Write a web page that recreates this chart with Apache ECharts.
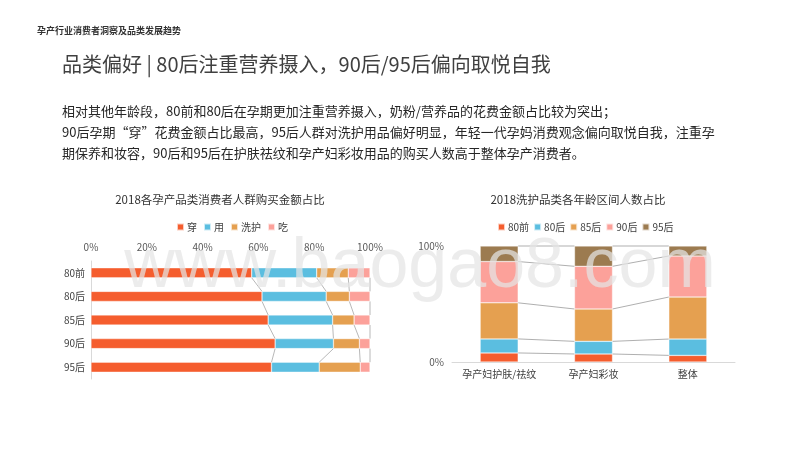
<!DOCTYPE html>
<html>
<head>
<meta charset="utf-8">
<script src="https://cdn.jsdelivr.net/npm/echarts@6/dist/echarts.min.js"></script>
<style>
html,body{margin:0;padding:0;background:#fff;}
#c{width:800px;height:450px;}
</style>
</head>
<body>
<div id="c"></div>
<script>
// ---- Left chart data: share of purchase amount by category, per age group ----
const leftCats = ['80前', '80后', '85后', '90后', '95后'];
const leftSeriesNames = ['穿', '用', '洗护', '吃'];
const wear = [57.6, 61.3, 63.5, 66.0, 64.7];
const use = [23.3, 23.0, 23.1, 20.9, 17.1];
const care = [11.3, 8.3, 7.7, 9.3, 14.7];
const eat = [7.8, 7.4, 5.7, 3.8, 3.5];
const leftTicks = ['0%', '20%', '40%', '60%', '80%', '100%'];

// ---- Right chart data: share of buyers by age group, per care category ----
const rightCats = ['孕产妇护肤/祛纹', '孕产妇彩妆', '整体'];
const rightSeriesNames = ['80前', '80后', '85后', '90后', '95后'];
const age80a = [7.8, 6.9, 5.7];
const age80b = [12.1, 10.9, 14.1];
const age85 = [31.1, 27.9, 36.2];
const age90 = [35.6, 36.8, 35.4];
const age95 = [13.4, 17.5, 8.6];
const rightTicks = ['0%', '100%'];

const leftColors = ['#F55D2E', '#5BBEE0', '#E5A050', '#FCA19A'];
const rightColors = ['#F55D2E', '#5BBEE0', '#E5A050', '#FCA19A', '#9C7B50'];
const FONT = '"Noto Sans CJK SC", "Microsoft YaHei", sans-serif';

function cumulative(arrs) {
  const out = [];
  let acc = arrs[0].map(() => 0);
  arrs.forEach(a => { acc = acc.map((v, i) => v + a[i]); out.push(acc.slice()); });
  return out;
}
const leftArrs = [wear, use, care, eat];
const rightArrs = [age80a, age80b, age85, age90, age95];
const leftCum = cumulative(leftArrs);
const rightCum = cumulative(rightArrs);

// series lines data (connect stack boundaries of neighbouring bars)
const leftLines = [];
leftCum.forEach(c => { for (let i = 0; i < c.length - 1; i++) leftLines.push([c[i], i, c[i + 1], i + 1]); });
const rightLines = [];
rightCum.forEach(c => { for (let i = 0; i < c.length - 1; i++) rightLines.push([i, c[i], i + 1, c[i + 1]]); });

const LBAR = 10, RBAR = 38;

const chart = echarts.init(document.getElementById('c'));
const series = [];
leftSeriesNames.forEach((n, k) => {
  series.push({
    name: n, type: 'bar', stack: 'L', xAxisIndex: 0, yAxisIndex: 0,
    data: leftArrs[k], barWidth: LBAR,
    itemStyle: { color: leftColors[k], borderColor: 'rgba(255,255,255,0.7)', borderWidth: 0.5 },
    z: 2
  });
});
series.push({
  type: 'custom', xAxisIndex: 0, yAxisIndex: 0, silent: true, z: 1,
  encode: { x: [0, 2], y: [1, 3] },
  data: leftLines,
  renderItem: function (params, api) {
    const p1 = api.coord([api.value(0), api.value(1)]);
    const p2 = api.coord([api.value(2), api.value(3)]);
    return { type: 'line', shape: { x1: p1[0], y1: p1[1] + LBAR / 2, x2: p2[0], y2: p2[1] - LBAR / 2 },
      style: { stroke: '#a6a6a6', lineWidth: 0.8 } };
  }
});
rightSeriesNames.forEach((n, k) => {
  series.push({
    name: n, type: 'bar', stack: 'R', xAxisIndex: 1, yAxisIndex: 1,
    data: rightArrs[k], barWidth: RBAR,
    itemStyle: { color: rightColors[k], borderColor: 'rgba(255,255,255,0.7)', borderWidth: 0.5 },
    z: 2
  });
});
series.push({
  type: 'custom', xAxisIndex: 1, yAxisIndex: 1, silent: true, z: 1,
  encode: { x: [0, 2], y: [1, 3] },
  data: rightLines,
  renderItem: function (params, api) {
    const p1 = api.coord([api.value(0), api.value(1)]);
    const p2 = api.coord([api.value(2), api.value(3)]);
    return { type: 'line', shape: { x1: p1[0] + RBAR / 2, y1: p1[1], x2: p2[0] - RBAR / 2, y2: p2[1] },
      style: { stroke: '#a6a6a6', lineWidth: 0.9 } };
  }
});

chart.setOption({
  animation: false,
  textStyle: { fontFamily: FONT },
  grid: [
    { left: 91, top: 261, width: 279, height: 118 },
    { left: 452, top: 246, width: 283, height: 116 }
  ],
  legend: [
    { data: leftSeriesNames, left: 171, top: 217, itemWidth: 7, itemHeight: 7, itemGap: 6, icon: 'rect',
      textStyle: { fontSize: 10, color: '#404040', padding: [0, 0, 0, -2] } },
    { data: rightSeriesNames, left: 492, top: 217, itemWidth: 7, itemHeight: 7, itemGap: 4, icon: 'rect',
      textStyle: { fontSize: 10, color: '#404040', padding: [0, 0, 0, -2] } }
  ],
  xAxis: [
    { gridIndex: 0, type: 'value', position: 'top', min: 0, max: 100, interval: 20,
      axisLine: { show: false }, axisTick: { show: false }, splitLine: { show: false },
      axisLabel: { fontSize: 10, color: '#595959', margin: 9, formatter: (v) => leftTicks[Math.round(v / 20)] } },
    { gridIndex: 1, type: 'category', data: rightCats,
      axisLine: { lineStyle: { color: '#d9d9d9' } }, axisTick: { show: false },
      axisLabel: { fontSize: 10, color: '#404040', margin: 7, interval: 0, hideOverlap: false } }
  ],
  yAxis: [
    { gridIndex: 0, type: 'category', data: leftCats, inverse: true,
      axisLine: { lineStyle: { color: '#d9d9d9' } }, axisTick: { show: false },
      axisLabel: { fontSize: 10, color: '#404040', margin: 6, interval: 0 } },
    { gridIndex: 1, type: 'value', min: 0, max: 100, interval: 100,
      axisLine: { show: false }, axisTick: { show: false }, splitLine: { show: false },
      axisLabel: { fontSize: 10, color: '#595959', margin: 8, formatter: (v) => rightTicks[Math.round(v / 100)] } }
  ],
  series: series,
  graphic: [
    { type: 'text', left: 37, top: 26, style: { text: '孕产行业消费者洞察及品类发展趋势', fontSize: 9, fontWeight: 'bold', fill: '#333', fontFamily: FONT } },
    { type: 'text', left: 62, top: 54, style: { text: '品类偏好 | 80后注重营养摄入，90后/95后偏向取悦自我', fontSize: 20, fill: '#404040', fontFamily: FONT } },
    { type: 'text', left: 62, top: 105, style: { text: '相对其他年龄段，80前和80后在孕期更加注重营养摄入，奶粉/营养品的花费金额占比较为突出；', fontSize: 13, fill: '#262626', fontFamily: FONT } },
    { type: 'text', left: 62, top: 126, style: { text: '90后孕期“穿”花费金额占比最高，95后人群对洗护用品偏好明显，年轻一代孕妈消费观念偏向取悦自我，注重孕', fontSize: 13, fill: '#262626', fontFamily: FONT } },
    { type: 'text', left: 62, top: 147, style: { text: '期保养和妆容，90后和95后在护肤祛纹和孕产妇彩妆用品的购买人数高于整体孕产消费者。', fontSize: 13, fill: '#262626', fontFamily: FONT } },
    { type: 'text', x: 220, y: 200, style: { text: '2018各孕产品类消费者人群购买金额占比', fontSize: 11.5, fill: '#333', fontFamily: FONT, textAlign: 'center', textVerticalAlign: 'middle' } },
    { type: 'text', x: 578, y: 200, style: { text: '2018洗护品类各年龄区间人数占比', fontSize: 11.5, fill: '#333', fontFamily: FONT, textAlign: 'center', textVerticalAlign: 'middle' } },
    { type: 'text', x: 420, y: 268, z: 100, silent: true, style: { text: 'www.baogao8.com', fontSize: 70, fill: 'rgba(228,228,228,0.72)', fontFamily: '"Liberation Sans", Arial, sans-serif', textAlign: 'center', textVerticalAlign: 'middle' } }
  ]
});
</script>
</body>
</html>
